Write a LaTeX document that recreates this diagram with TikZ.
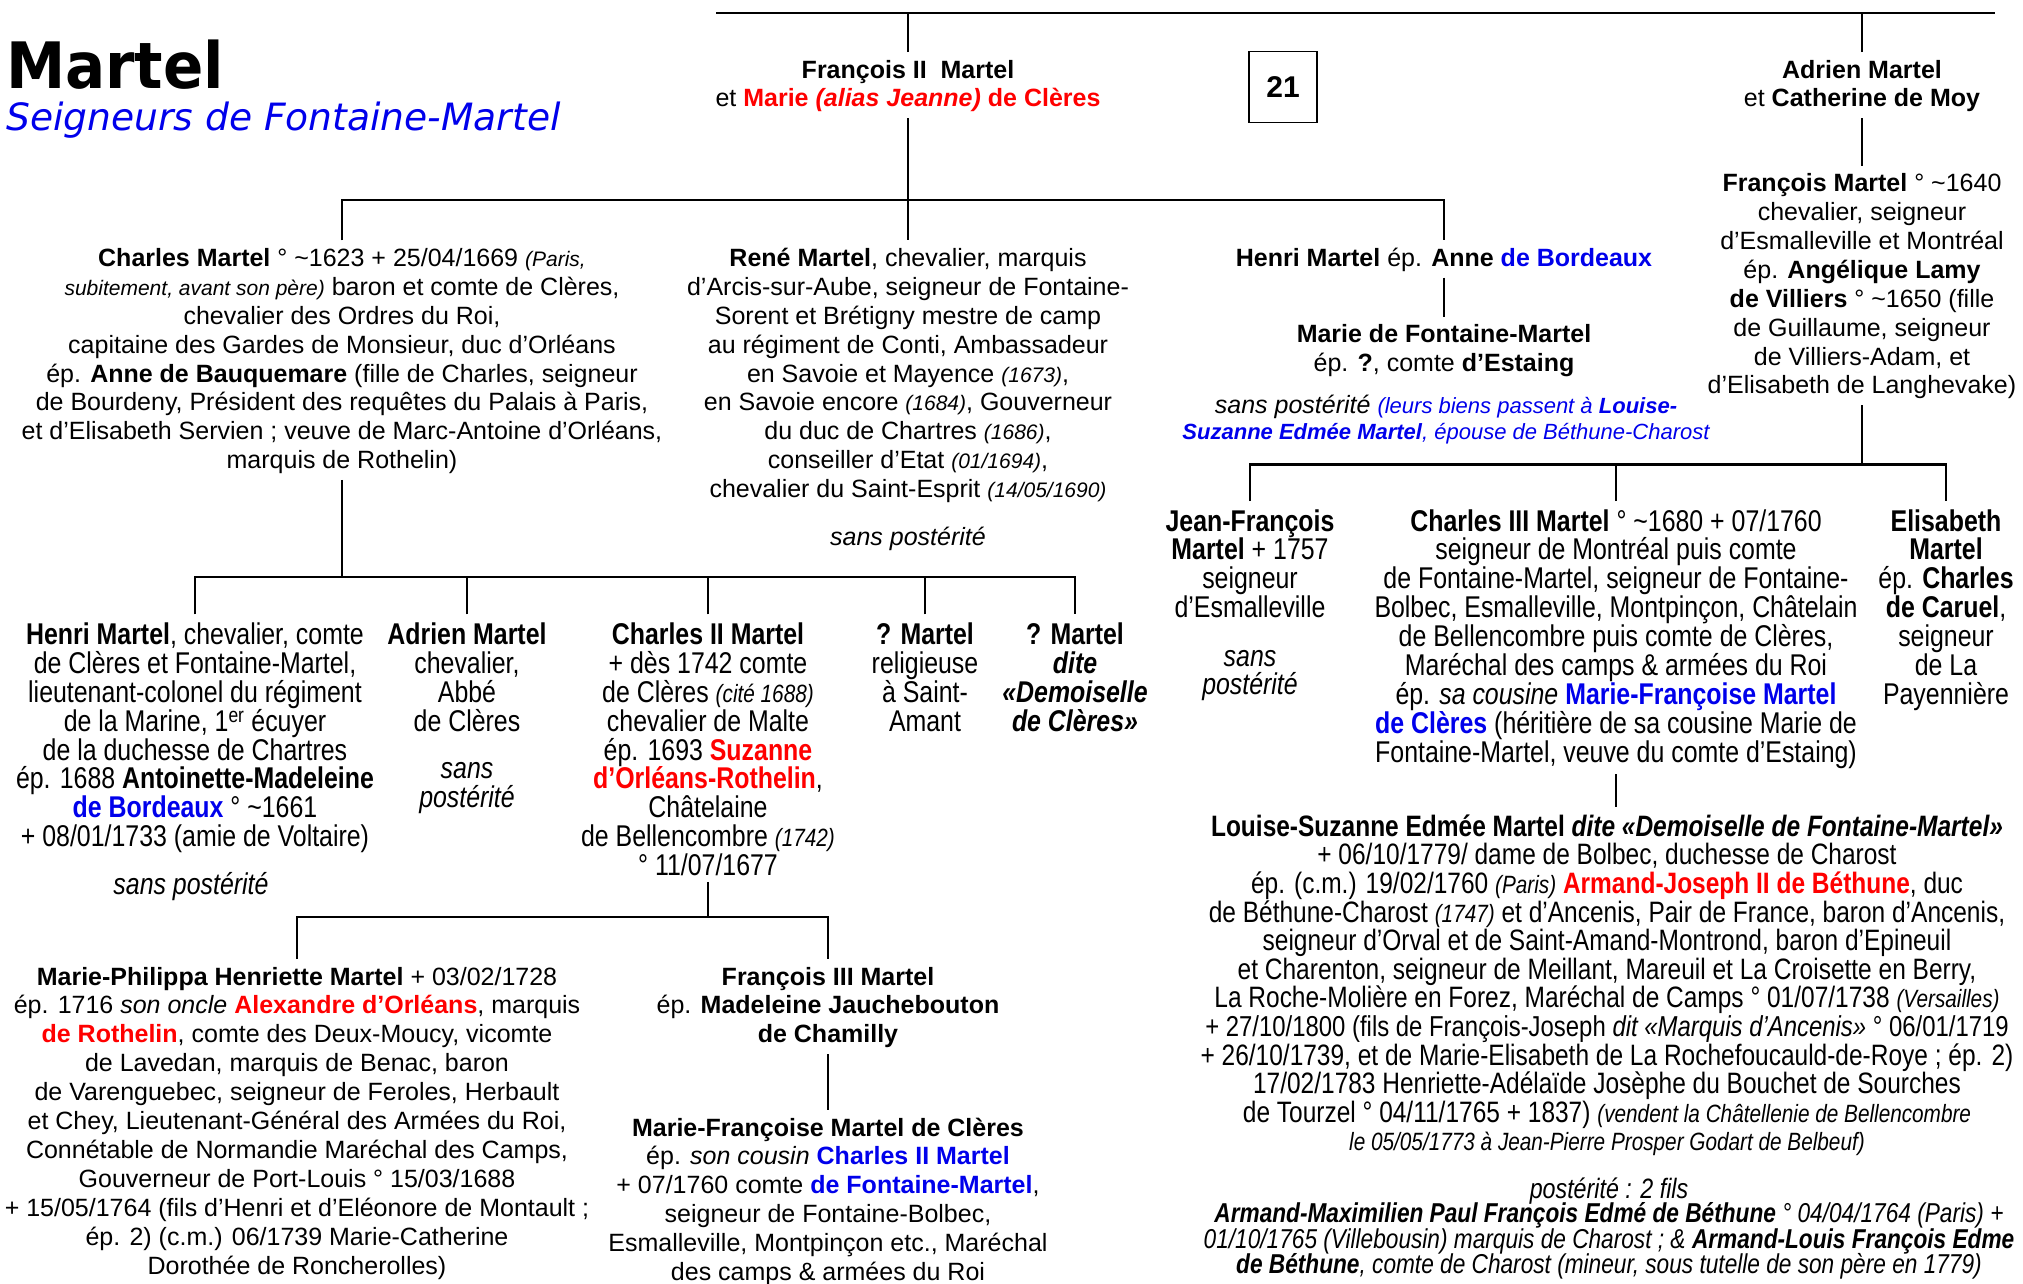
\documentclass[tikz,border=0pt]{standalone}
\usepackage{fontspec}
\setmainfont{Liberation Sans}
\newfontfamily\narf{Liberation Sans}[FakeStretch=0.83]
\newfontfamily\titlefnt{DejaVu Sans}[FakeStretch=0.93]
\newfontfamily\subfnt{DejaVu Sans}
\definecolor{cred}{RGB}{255,0,0}
\definecolor{cblue}{RGB}{0,0,235}
\newcommand\fst{\rule{0pt}{0.8em}}
\newcommand\smi[1]{{\fontsize{21}{28.9}\selectfont\itshape #1}}
\newcommand\smn[1]{{\fontsize{25}{28.6}\selectfont\itshape #1}}
\newcommand\redb[1]{\textcolor{cred}{\textbf{#1}}}
\newcommand\blueb[1]{\textcolor{cblue}{\textbf{#1}}}
\begin{document}
\begin{tikzpicture}[x=1pt,y=-1pt,
  reg/.style={anchor=north, inner sep=0pt, outer sep=6pt, align=center, font=\fontsize{25}{28.9}\selectfont},
  nrw/.style={anchor=north, inner sep=0pt, outer sep=6pt, align=center, font=\narf\fontsize{30}{28.9}\selectfont},
  conn/.style={line width=2.4pt}]
\useasboundingbox (0,0) rectangle (2023,1283);

% title
\node[anchor=base west, inner sep=0pt] (title) at (6,88) {\titlefnt\bfseries\fontsize{64}{70}\selectfont Martel};
\node[anchor=base west, inner sep=0pt, text=cblue] (subtitle) at (6,130) {\subfnt\itshape\fontsize{37.6}{40}\selectfont Seigneurs de Fontaine-Martel};

% top generation
\coordinate (t0) at (716,13);
\coordinate (t1) at (1995,13);
\node[reg] (fr2) at (908,52) {\fst\textbf{François II\ \ Martel}\\ et \redb{Marie \textit{(alias Jeanne)} de Clères}};
\node[reg] (adr) at (1862,52) {\fst\textbf{Adrien Martel}\\ et \textbf{Catherine de Moy}};
\node[draw, line width=1.6pt, minimum width=68pt, minimum height=71pt, inner sep=0pt, font=\fontsize{30}{30}\selectfont\bfseries] (num) at (1283,87) {21};

% children of François II
\node[reg] (charles) at (342,240.4) {\fst\textbf{Charles Martel} ° \textasciitilde1623 + 25/04/1669 \smi{(Paris,}\\
\smi{subitement, avant son père)} baron et comte de Clères,\\
chevalier des Ordres du Roi,\\
capitaine des Gardes de Monsieur, duc d’Orléans\\
ép. \textbf{Anne de Bauquemare} (fille de Charles, seigneur\\
de Bourdeny, Président des requêtes du Palais à Paris,\\
et d’Elisabeth Servien ; veuve de Marc-Antoine d’Orléans,\\
marquis de Rothelin)};
\node[reg] (rene) at (908,240.4) {\fst\textbf{René Martel}, chevalier, marquis\\
d’Arcis-sur-Aube, seigneur de Fontaine-\\
Sorent et Brétigny mestre de camp\\
au régiment de Conti, Ambassadeur\\
en Savoie et Mayence \smi{(1673)},\\
en Savoie encore \smi{(1684)}, Gouverneur\\
du duc de Chartres \smi{(1686)},\\
conseiller d’Etat \smi{(01/1694)},\\
chevalier du Saint-Esprit \smi{(14/05/1690)}};
\node[reg] (renesp) at (908,519) {\fst\textit{sans postérité}};
\node[reg] (henri1) at (1444,240.4) {\fst\textbf{Henri Martel} ép. \textbf{Anne} \blueb{de Bordeaux}};
\node[reg] (marie) at (1444,316.6) {\fst\textbf{Marie de Fontaine-Martel}\\ ép. \textbf{?}, comte \textbf{d’Estaing}};
\node[reg, font=\fontsize{25}{25.8}\selectfont] (mariesp) at (1446,387.5) {\fst\textit{sans postérité} {\fontsize{22}{25.8}\selectfont\itshape\color{cblue}(leurs biens passent à \textbf{Louise-}}\\
{\fontsize{22}{25.8}\selectfont\itshape\color{cblue}\textbf{Suzanne Edmée Martel}, épouse de Béthune-Charost}};

% right branch
\node[reg] (fm) at (1862,165.6) {\fst\textbf{François Martel} ° \textasciitilde1640\\
chevalier, seigneur\\
d’Esmalleville et Montréal\\
ép. \textbf{Angélique Lamy}\\
\textbf{de Villiers} ° \textasciitilde1650 (fille\\
de Guillaume, seigneur\\
de Villiers-Adam, et\\
d’Elisabeth de Langhevake)};
\node[nrw] (jf) at (1250,501) {\fst\textbf{Jean-François}\\ \textbf{Martel} + 1757\\ seigneur\\ d’Esmalleville};
\node[nrw, font=\narf\fontsize{30}{28.4}\selectfont\itshape] (jfsp) at (1250,636.4) {\fst sans\\ postérité};
\node[nrw] (c3) at (1616,501) {\fst\textbf{Charles III Martel} ° \textasciitilde1680 + 07/1760\\
seigneur de Montréal puis comte\\
de Fontaine-Martel, seigneur de Fontaine-\\
Bolbec, Esmalleville, Montpinçon, Châtelain\\
de Bellencombre puis comte de Clères,\\
Maréchal des camps \& armées du Roi\\
ép. \textit{sa cousine} \blueb{Marie-Françoise Martel}\\
\blueb{de Clères} (héritière de sa cousine Marie de\\
Fontaine-Martel, veuve du comte d’Estaing)};
\node[nrw] (elis) at (1946,501) {\fst\textbf{Elisabeth}\\ \textbf{Martel}\\ ép. \textbf{Charles}\\ \textbf{de Caruel},\\ seigneur\\ de La\\ Payennière};
\node[nrw, font=\narf\fontsize{29.5}{28.6}\selectfont] (louise) at (1607,806.7) {\fst\textbf{Louise-Suzanne Edmée Martel \textit{dite «Demoiselle de Fontaine-Martel»}}\\
+ 06/10/1779/ dame de Bolbec, duchesse de Charost\\
ép. (c.m.) 19/02/1760 \smn{(Paris)} \redb{Armand-Joseph II de Béthune}, duc\\
de Béthune-Charost \smn{(1747)} et d’Ancenis, Pair de France, baron d’Ancenis,\\
seigneur d’Orval et de Saint-Amand-Montrond, baron d’Epineuil\\
et Charenton, seigneur de Meillant, Mareuil et La Croisette en Berry,\\
La Roche-Molière en Forez, Maréchal de Camps ° 01/07/1738 \smn{(Versailles)}\\
{\fontsize{28.8}{28.6}\selectfont + 27/10/1800 (fils de François-Joseph \textit{dit «Marquis d’Ancenis»} ° 06/01/1719}\\
+ 26/10/1739, et de Marie-Elisabeth de La Rochefoucauld-de-Roye ; ép. 2)\\
17/02/1783 Henriette-Adélaïde Josèphe du Bouchet de Sourches\\
de Tourzel ° 04/11/1765 + 1837) \smn{(vendent la Châtellenie de Bellencombre}\\
\smn{le 05/05/1773 à Jean-Pierre Prosper Godart de Belbeuf)}};
\node[anchor=base, inner sep=0pt, font=\narf\fontsize{28}{28}\selectfont\itshape] (lsp) at (1609,1198) {postérité : 2 fils};
\node[anchor=north, inner sep=0pt, align=center, font=\narf\fontsize{27.3}{25.8}\selectfont\itshape] (lfils) at (1609,1200.2) {\fst\textbf{Armand-Maximilien Paul François Edmé de Béthune} ° 04/04/1764 (Paris) +\\
01/10/1765 (Villebousin) marquis de Charost ; \& \textbf{Armand-Louis François Edme}\\
\textbf{de Béthune}, comte de Charost (mineur, sous tutelle de son père en 1779)};

% children of Charles Martel
\node[nrw] (henriL) at (195,614.4) {\fst\textbf{Henri Martel}, chevalier, comte\\
de Clères et Fontaine-Martel,\\
lieutenant-colonel du régiment\\
de la Marine, 1\textsuperscript{er} écuyer\\
de la duchesse de Chartres\\
ép. 1688 \textbf{Antoinette-Madeleine}\\
\blueb{de Bordeaux} ° \textasciitilde1661\\
+ 08/01/1733 (amie de Voltaire)};
\node[nrw, font=\narf\fontsize{30}{28.9}\selectfont\itshape] (henriLsp) at (191,864.8) {\fst sans postérité};
\node[nrw] (adr2) at (467,614.4) {\fst\textbf{Adrien Martel}\\ chevalier,\\ Abbé\\ de Clères};
\node[nrw, font=\narf\fontsize{30}{28.9}\selectfont\itshape] (adr2sp) at (467,748.6) {\fst sans\\ postérité};
\node[nrw] (c2) at (708,614.4) {\fst\textbf{Charles II Martel}\\
+ dès 1742 comte\\
de Clères \smn{(cité 1688)}\\
chevalier de Malte\\
ép. 1693 \redb{Suzanne}\\
\redb{d’Orléans-Rothelin},\\
Châtelaine\\
de Bellencombre \smn{(1742)}\\
° 11/07/1677};
\node[nrw] (qm1) at (925,614.4) {\fst\textbf{? Martel}\\ religieuse\\ à Saint-\\ Amant};
\node[nrw] (qm2) at (1075,614.4) {\fst\textbf{? Martel}\\ \textbf{\textit{dite}}\\ \textbf{\textit{«Demoiselle}}\\ \textbf{\textit{de Clères»}}};

% children of Charles II
\node[reg] (mp) at (297,959) {\fst\textbf{Marie-Philippa Henriette Martel} + 03/02/1728\\
ép. 1716 \textit{son oncle} \redb{Alexandre d’Orléans}, marquis\\
\redb{de Rothelin}, comte des Deux-Moucy, vicomte\\
de Lavedan, marquis de Benac, baron\\
de Varenguebec, seigneur de Feroles, Herbault\\
et Chey, Lieutenant-Général des Armées du Roi,\\
Connétable de Normandie Maréchal des Camps,\\
Gouverneur de Port-Louis ° 15/03/1688\\
+ 15/05/1764 (fils d’Henri et d’Eléonore de Montault ;\\
ép. 2) (c.m.) 06/1739 Marie-Catherine\\
Dorothée de Roncherolles)};
\node[reg] (f3) at (828,959) {\fst\textbf{François III Martel}\\ ép. \textbf{Madeleine Jauchebouton}\\ \textbf{de Chamilly}};
\node[reg] (mf) at (828,1110) {\fst\textbf{Marie-Françoise Martel de Clères}\\
ép. \textit{son cousin} \blueb{Charles II Martel}\\
+ 07/1760 comte \blueb{de Fontaine-Martel},\\
seigneur de Fontaine-Bolbec,\\
Esmalleville, Montpinçon etc., Maréchal\\
des camps \& armées du Roi};

% connectors
\coordinate (b1) at (908,200);
\coordinate (b2) at (342,577);
\coordinate (b3) at (708,917);
\coordinate (b4) at (1862,464.5);
\draw[conn] (t0) -- (t1);
\draw[conn] (fr2.north) -- (fr2.north |- t0);
\draw[conn] (adr.north) -- (adr.north |- t0);
\draw[conn] (adr.south) -- (fm.north);
\draw[conn] (fr2.south) -- (rene.north);
\draw[conn] (charles.north) |- (b1) -| (henri1.north);
\draw[conn] (henri1.south) -- (marie.north);
\draw[conn] (charles.south) -- (b2);
\draw[conn] (henriL.north) |- (b2) -| (qm2.north);
\draw[conn] (adr2.north) -- (adr2.north |- b2);
\draw[conn] (c2.north) -- (c2.north |- b2);
\draw[conn] (qm1.north) -- (qm1.north |- b2);
\draw[conn] (c2.south) -- (b3);
\draw[conn] (mp.north) |- (b3) -| (f3.north);
\draw[conn] (f3.south) -- (mf.north);
\draw[conn] (fm.south) -- (b4);
\draw[conn] (jf.north) |- (b4) -| (elis.north);
\draw[conn] (c3.north) -- (c3.north |- b4);
\draw[conn] (c3.south) -- (c3.south |- louise.north);
\end{tikzpicture}
\end{document}
